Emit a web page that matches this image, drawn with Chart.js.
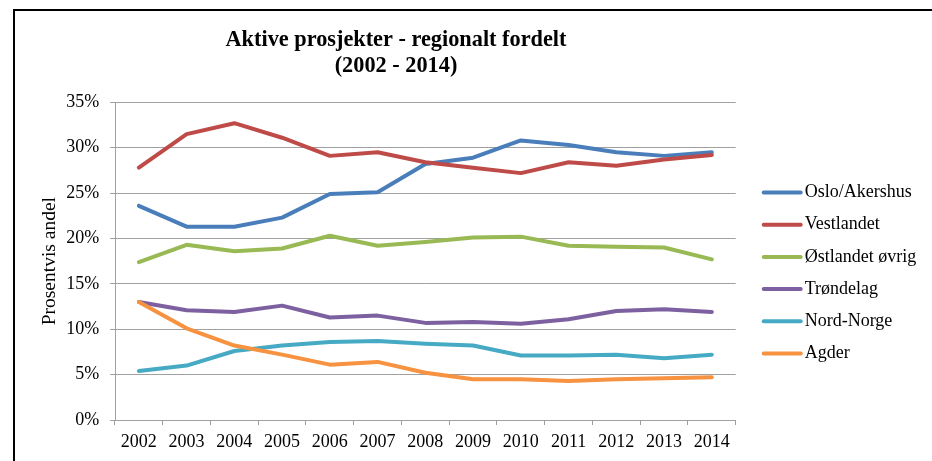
<!DOCTYPE html>
<html>
<head>
<meta charset="utf-8">
<script src="https://cdn.jsdelivr.net/npm/chart.js@4"></script>
<style>
  html, body { margin: 0; padding: 0; background: #fff; }
  #wrap { position: relative; width: 932px; height: 461px; overflow: hidden; }
  #frame { position: absolute; left: 13px; top: 9px; width: 1000px; height: 500px;
           border-left: 2px solid #000; border-top: 2px solid #000; }
  canvas { position: absolute; left: 0; top: 0; }
</style>
</head>
<body>
<div id="wrap">
  <canvas id="chart" width="932" height="461"></canvas>
  <div id="frame"></div>
</div>
<script>
  // data (percent)
  const years = ['2002', '2003', '2004', '2005', '2006', '2007', '2008', '2009', '2010', '2011', '2012', '2013', '2014'];
  const osloAkershus = [23.6, 21.3, 21.3, 22.3, 24.9, 25.1, 28.2, 28.9, 30.8, 30.3, 29.5, 29.1, 29.5];
  const vestlandet   = [27.8, 31.5, 32.7, 31.1, 29.1, 29.5, 28.4, 27.8, 27.2, 28.4, 28.0, 28.7, 29.2];
  const ostlandet    = [17.4, 19.3, 18.6, 18.9, 20.3, 19.2, 19.6, 20.1, 20.2, 19.2, 19.1, 19.0, 17.7];
  const trondelag    = [13.0, 12.1, 11.9, 12.6, 11.3, 11.5, 10.7, 10.8, 10.6, 11.1, 12.0, 12.2, 11.9];
  const nordNorge    = [5.4, 6.0, 7.6, 8.2, 8.6, 8.7, 8.4, 8.2, 7.1, 7.1, 7.2, 6.8, 7.2];
  const agder        = [13.0, 10.1, 8.2, 7.2, 6.1, 6.4, 5.2, 4.5, 4.5, 4.3, 4.5, 4.6, 4.7];

  const seriesNames = ['Oslo/Akershus', 'Vestlandet', 'Østlandet øvrig', 'Trøndelag', 'Nord-Norge', 'Agder'];
  const seriesData = [osloAkershus, vestlandet, ostlandet, trondelag, nordNorge, agder];
  const seriesColors = ['#4A7EBB', '#BE4B48', '#98B954', '#7D60A0', '#46AAC5', '#F69240'];

  const titleLines = ['Aktive prosjekter - regionalt fordelt', '(2002 - 2014)'];
  const yTitle = 'Prosentvis andel';

  const gridGray = '#A0A0A0';
  const FONT = '"Liberation Serif", "Times New Roman", serif';

  Chart.defaults.font.family = FONT;
  Chart.defaults.color = '#000';

  // legend drawn next to the plot, line sample + label
  const lineLegend = {
    id: 'lineLegend',
    afterDraw(chart) {
      const ctx = chart.ctx;
      const x0 = chart.chartArea.right + 27;
      ctx.save();
      ctx.font = '18px ' + FONT;
      ctx.textBaseline = 'middle';
      ctx.textAlign = 'left';
      chart.data.datasets.forEach((ds, i) => {
        const y = 192.5 + i * 32.2;
        ctx.strokeStyle = ds.borderColor;
        ctx.lineWidth = 4;
        ctx.lineCap = 'round';
        ctx.beginPath();
        ctx.moveTo(x0 + 1, y);
        ctx.lineTo(x0 + 38, y);
        ctx.stroke();
        ctx.fillStyle = '#000';
        ctx.fillText(ds.label, x0 + 42, y);
      });
      ctx.restore();
    }
  };

  const datasets = seriesNames.map((name, i) => ({
    label: name,
    data: seriesData[i],
    borderColor: seriesColors[i],
    backgroundColor: seriesColors[i],
    borderWidth: 4,
    pointRadius: 0,
    tension: 0,
    borderJoinStyle: 'round',
    borderCapStyle: 'round',
    order: seriesNames.length - i,
  }));

  new Chart(document.getElementById('chart'), {
    type: 'line',
    data: { labels: years, datasets },
    plugins: [lineLegend],
    options: {
      responsive: false,
      animation: false,
      devicePixelRatio: 1,
      layout: { padding: { left: 56.3, right: 196.3, top: 0, bottom: 0 } },
      plugins: {
        legend: { display: false },
        tooltip: { enabled: false },
        title: {
          display: true,
          text: titleLines,
          color: '#000',
          font: { size: 22.3, weight: 'bold', lineHeight: 1.2 },
          padding: { top: 26.5, bottom: 22.3 },
        },
      },
      scales: {
        x: {
          offset: true,
          grid: { drawOnChartArea: false, drawTicks: true, tickLength: 5, color: gridGray, offset: true },
          border: { color: gridGray, width: 1 },
          ticks: { color: '#000', font: { size: 18 }, padding: 6, maxRotation: 0, autoSkip: false },
          afterFit: (s) => { s.height = 41; },
        },
        y: {
          min: 0,
          max: 35,
          grid: { color: gridGray, lineWidth: 1, tickLength: 5 },
          border: { color: gridGray, width: 1 },
          ticks: { stepSize: 5, color: '#000', font: { size: 18 }, padding: 10.7, callback: (v) => v + '%' },
          title: { display: true, text: yTitle, color: '#000', font: { size: 19.5 }, padding: { top: -18.5, bottom: 0 } },
          afterFit: (s) => { s.width = 58.7; },
        },
      },
    },
  });
</script>
</body>
</html>
